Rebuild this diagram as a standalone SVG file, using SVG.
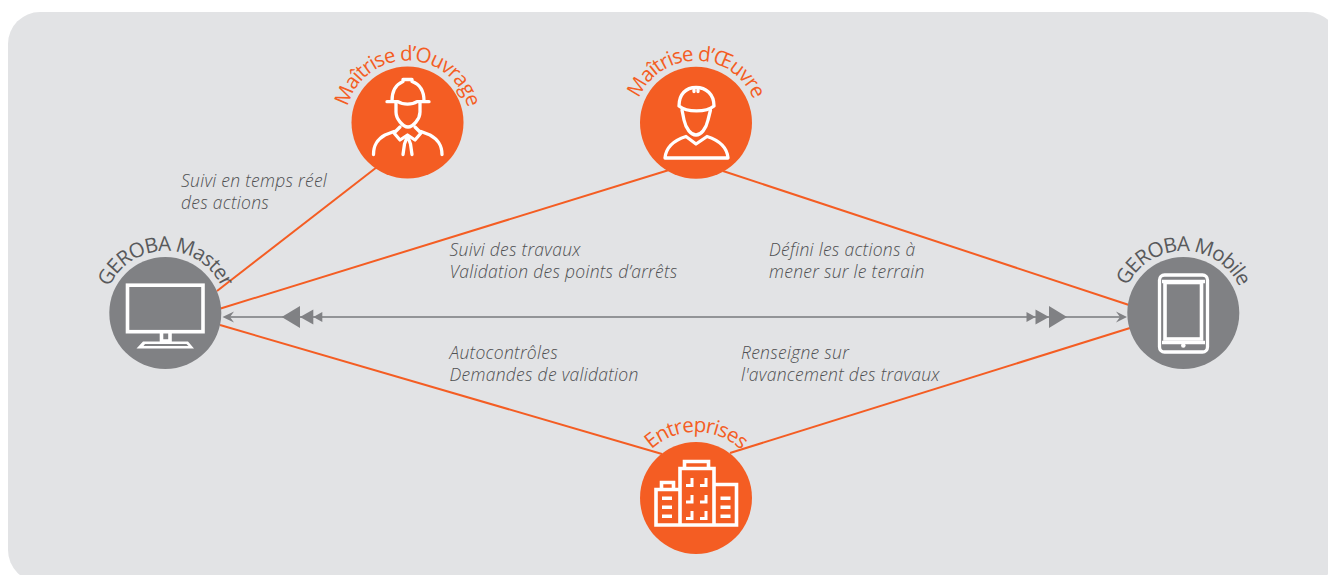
<svg xmlns="http://www.w3.org/2000/svg" width="1328" height="575" viewBox="0 0 1328 575">
<style>
.bg{fill:#e2e3e5}
.o{fill:#f45d23}
.g{fill:#808184}
.ln{stroke:#f45d23;stroke-width:2;fill:none}
.ar{stroke:#929497;stroke-width:2;fill:none}
.ah{fill:#808184}
.w{fill:none;stroke:#fff;stroke-width:3.3;stroke-linecap:round;stroke-linejoin:round}
.wm{fill:none;stroke:#fff;stroke-width:3.6;stroke-linejoin:miter}
.wf{fill:#fff}
.cap{font-family:"Open Sans","Noto Sans",sans-serif;font-weight:400;font-size:20.500px;letter-spacing:-.95px}
.co{fill:#f45d23}
.cg{fill:#58595b}
.t{font-family:"Open Sans","Noto Sans",sans-serif;font-weight:300;font-style:italic;font-size:17.500px;letter-spacing:.28px;fill:#4f5052}
</style>
<defs>
<path id="aOuv" d="M345.500 122.500A62 62 0 0 1 469.500 122.500"/>
<path id="aOeu" d="M634 122.700A62 62 0 0 1 758 122.700"/>
<path id="aMas" d="M103.300 313A62 62 0 0 1 227.300 313"/>
<path id="aMob" d="M1121.300 313A62 62 0 0 1 1245.300 313"/>
<path id="aEnt" d="M630 498A66 66 0 0 1 762 498"/>
</defs>
<rect class="bg" x="8" y="12" width="1331" height="570" rx="32"/>
<g id="connectors">
<line class="ln" x1="377" y1="167" x2="217" y2="291"/>
<line class="ln" x1="669" y1="170" x2="219" y2="309"/>
<line class="ln" x1="723" y1="171" x2="1129" y2="305"/>
<line class="ln" x1="220" y1="325" x2="662" y2="454"/>
<line class="ln" x1="730" y1="453" x2="1130" y2="328"/>
<line class="ar" x1="230" y1="317" x2="1120" y2="317"/>
<path class="ah" d="M222.500 317L234 311.500L230 317L234 322.500Z"/>
<path class="ah" d="M281.700 317L300 306V328Z"/>
<path class="ah" d="M300 317L313.300 309.500V324.500Z"/>
<path class="ah" d="M313.300 317L322.300 312V322Z"/>
<path class="ah" d="M1127 317L1116 311.500L1120 317L1116 322.500Z"/>
<path class="ah" d="M1067 317L1049 306V328Z"/>
<path class="ah" d="M1049 317L1035.500 309.500V324.500Z"/>
<path class="ah" d="M1035.500 317L1026.500 312V322Z"/>
</g>
<g id="ouvrage">
<circle class="o" cx="407.500" cy="122.500" r="56"/>
<path class="w" d="M387 101.700H398C403 105 412 105 417 101.700H429"/>
<path class="w" d="M392 101C392 90 397 84 403 81.500V79.500H412V81.500C419 84 424 90 424 101"/>
<path class="w" d="M396 103V112C396 119 403 127 408 127C413 127 420 119 420 112V103"/>
<path class="w" d="M373.500 154.500C373.500 144 378 139 385 135L394 131.500"/>
<path class="w" d="M442 154.500C442 144 437 139 430 135L421 131.500"/>
<path class="w" d="M400 127L394 133L400 140L407.500 135L415 140L421 133L415 127"/>
<path class="w" d="M407.500 136L404.500 144L403 154.500M407.500 136L410.500 144L412 154.500"/>
<text class="cap co"><textPath href="#aOuv" startOffset="50%" text-anchor="middle">Maîtrise d’Ouvrage</textPath></text>
</g>
<g id="oeuvre">
<circle class="o" cx="696" cy="122.700" r="56"/>
<path class="w" d="M679 106C679 94 686 87.500 696 87.500C706 87.500 714 94 714 106C706 112.500 687 112.500 679 106Z"/>
<path class="w" d="M682 110L684 120C686 129 691 135 696 135C701 135 706 129 708 120L710.500 110"/>
<path class="w" d="M686 136.500L696 144L707 136.500C718 140 727 147 728 158H665C666 147 675 140 686 136.500Z"/>
<path class="w" d="M694 90V91.500M698 90V91.500"/>
<text class="cap co"><textPath href="#aOeu" startOffset="50%" text-anchor="middle">Maîtrise d’Œuvre</textPath></text>
</g>
<g id="master">
<circle class="g" cx="165.300" cy="313" r="56"/>
<rect class="wm" x="127.500" y="285.200" width="75.500" height="46.500"/>
<path class="wm" d="M161.500 333V341H170V333"/>
<path class="wf" d="M143 341.500H188L194 348.500H136.500ZM145 344L143.500 346H188.500L186.500 344Z" fill-rule="evenodd"/>
<text class="cap cg"><textPath href="#aMas" startOffset="50%" text-anchor="middle">GEROBA Master</textPath></text>
</g>
<g id="mobile">
<circle class="g" cx="1183.300" cy="313" r="56"/>
<rect class="w" x="1159.500" y="275" width="48" height="77" rx="5"/>
<path d="M1162 281.500H1205M1162 342.500H1205" class="wm"/>
<rect class="wm" x="1165" y="282.500" width="36.500" height="56.500"/>
<circle class="wf" cx="1183.300" cy="345.500" r="2.300"/>
<text class="cap cg"><textPath href="#aMob" startOffset="50%" text-anchor="middle">GEROBA Mobile</textPath></text>
</g>
<g id="entreprises">
<circle class="o" cx="696" cy="498" r="56"/>
<path class="wm" d="M678.500 525H656V489.500H678.500M680 525V468.500H714V525ZM714 484.500H736.500V525H714M661.500 489V482.500H673.500V489M684.500 468V461.500H708.500V468"/>
<path class="wm" d="M662 498.300H672M662 507.300H672M662 516.300H672M720.500 498.300H730.500M720.500 507.300H730.500M720.500 516.300H730.500"/>
<path class="wf" d="M686 487H693.500V478H690.500V484H686ZM700 487H707.500V478H704.500V484H700ZM686 503.500H693.500V495H690.500V500.500H686ZM700 503.500H707.500V495H704.500V500.500H700ZM686 520H693.500V511H690.500V517H686ZM700 520H707.500V511H704.500V517H700Z"/>
<text class="cap co"><textPath href="#aEnt" startOffset="50%" text-anchor="middle">Entreprises</textPath></text>
</g>
<g id="labels">
<text class="t" x="181" y="186.700">Suivi en temps réel</text>
<text class="t" x="181" y="208.700">des actions</text>
<text class="t" x="449.500" y="255.700">Suivi des travaux</text>
<text class="t" x="449.500" y="277.700">Validation des points d’arrêts</text>
<text class="t" x="769" y="255.700">Défini les actions à</text>
<text class="t" x="769" y="277.700">mener sur le terrain</text>
<text class="t" x="449.500" y="358.700">Autocontrôles</text>
<text class="t" x="449.500" y="380.700">Demandes de validation</text>
<text class="t" x="741" y="358.700">Renseigne sur</text>
<text class="t" x="741" y="380.700">l'avancement des travaux</text>
</g>
</svg>
